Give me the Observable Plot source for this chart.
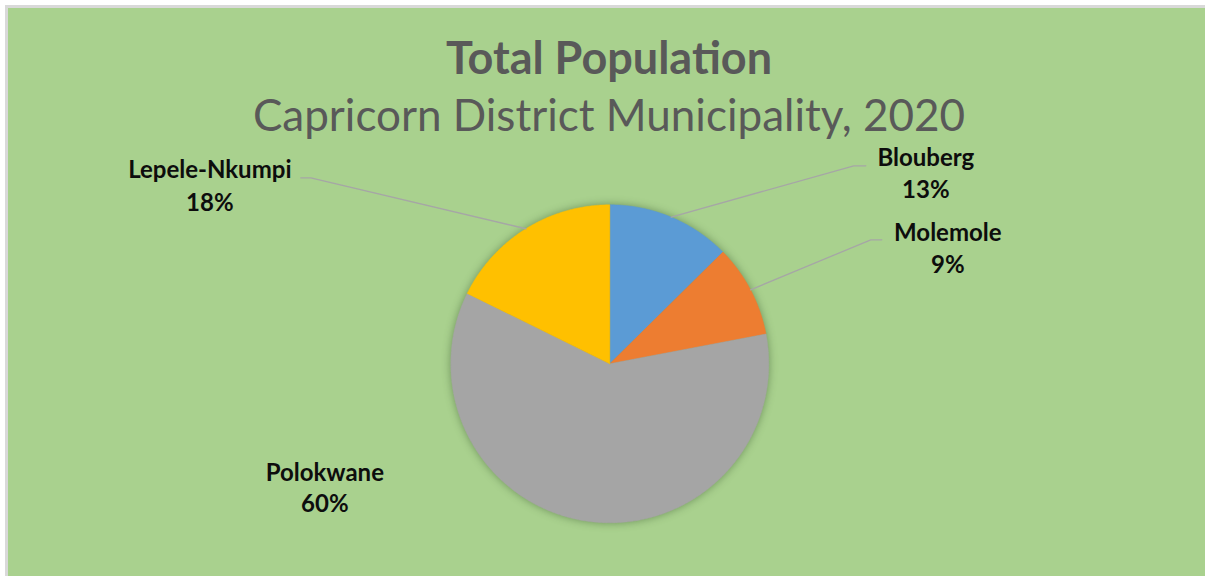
<!DOCTYPE html>
<html><head><meta charset="utf-8">
<script src="https://cdn.jsdelivr.net/npm/d3@7"></script>
<script src="https://cdn.jsdelivr.net/npm/@observablehq/plot@0.6"></script>
<style>
html,body{margin:0;padding:0;background:#fff;}
#frame{position:absolute;left:5px;top:5px;width:1197px;height:568px;border-top:3px solid #d9d9d9;border-left:3px solid #d9d9d9;background:#A9D18E;overflow:hidden;}
</style></head><body><div id="frame"></div>
<script>
// ---- data ----
const municipalities = ["Blouberg", "Molemole", "Polokwane", "Lepele-Nkumpi"];
const shares = [12.6, 9.4, 60.3, 17.7];            // % of district population
const shareLabels = ["13%", "9%", "60%", "18%"];
const sliceColors = ["#5B9BD5", "#ED7D31", "#A5A5A5", "#FFC000"];
const titleText = "Total Population";
const subtitleText = "Capricorn District Municipality, 2020";

// ---- layout (pixel offsets from pie centre, y up) ----
const W = 1197, H = 568;
const cx = 601.3, cy = 355.3, R = 159;
const labelFont = 24;
const labelLayout = {
  "Blouberg":      {x: 316,  y1: 198, y2: 166, elbow: [244, 198], end: [256, 198]},
  "Molemole":      {x: 338,  y1: 123, y2: 91,  elbow: [261, 124], end: [272, 124]},
  "Polokwane":     {x: -285, y1: -117, y2: -148, elbow: null},
  "Lepele-Nkumpi": {x: -400, y1: 186, y2: 153, elbow: [-299, 186], end: [-309, 186]}
};

const data = municipalities.map((name, i) => ({name, share: shares[i], label: shareLabels[i]}));
const arcs = d3.pie().sort(null).value(d => d.share)(data);

// slice polygons
const piePts = [];
for (const a of arcs) {
  const name = a.data.name;
  piePts.push({name, x: 0, y: 0});
  const n = Math.max(2, Math.ceil((a.endAngle - a.startAngle) / (Math.PI / 360)));
  for (let k = 0; k <= n; k++) {
    const t = a.startAngle + (a.endAngle - a.startAngle) * k / n;
    piePts.push({name, x: R * Math.sin(t), y: R * Math.cos(t)});
  }
  piePts.push({name, x: 0, y: 0});
}

// leader lines
const leaders = [];
for (const a of arcs) {
  const L = labelLayout[a.data.name];
  if (!L.elbow) continue;
  const m = (a.startAngle + a.endAngle) / 2;
  leaders.push({name: a.data.name, x: R * Math.sin(m), y: R * Math.cos(m)});
  leaders.push({name: a.data.name, x: L.elbow[0], y: L.elbow[1]});
  leaders.push({name: a.data.name, x: L.end[0], y: L.end[1]});
}

const labels = data.map(d => ({...d, ...labelLayout[d.name]}));

const plot = Plot.plot({
  width: W, height: H,
  margin: 0,
  x: {domain: [-cx, W - cx], range: [0, W], axis: null},
  y: {domain: [-(H - cy), cy], range: [H, 0], axis: null},
  color: {domain: municipalities, range: sliceColors},
  style: {background: "transparent", fontFamily: "Lato, 'Open Sans', sans-serif", overflow: "visible"},
  marks: [
    Plot.line(piePts, {x: "x", y: "y", z: "name", fill: "name", stroke: "name", strokeWidth: 0.5, curve: "linear"}),
    Plot.line(leaders, {x: "x", y: "y", z: "name", stroke: "#A6A6A6", strokeWidth: 1.3}),
    Plot.text(labels, {x: "x", y: "y1", text: "name", fontSize: labelFont, fontWeight: "bold", fill: "#0d0d0d", textAnchor: "middle", lineAnchor: "middle", dy: -0.32 * labelFont}),
    Plot.text(labels, {x: "x", y: "y2", text: "label", fontSize: labelFont, fontWeight: "bold", fill: "#0d0d0d", textAnchor: "middle", lineAnchor: "middle", dy: -0.32 * labelFont}),
    Plot.text([titleText], {frameAnchor: "top", text: d => d, fontSize: 45, fontWeight: "bold", fill: "#595959", lineAnchor: "middle", dx: 2, dy: 65 - 0.32 * 45}),
    Plot.text([subtitleText], {frameAnchor: "top", text: d => d, fontSize: 44, fill: "#595959", lineAnchor: "middle", dx: 2, dy: 122 - 0.32 * 44})
  ]
});
document.getElementById("frame").appendChild(plot);
const pieG = plot.querySelector('g[aria-label="line"]');
if (pieG) pieG.style.filter = "drop-shadow(0 0 4px rgba(40,70,30,0.45))";
</script>
</body></html>
